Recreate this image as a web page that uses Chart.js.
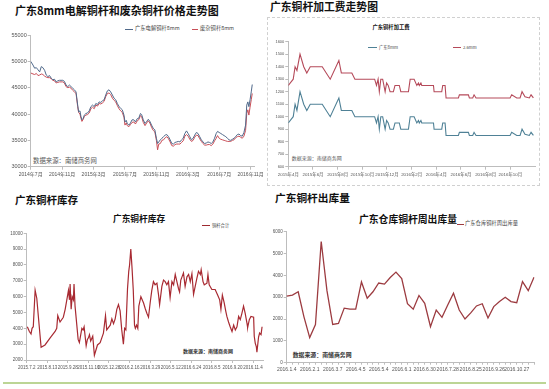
<!DOCTYPE html>
<html><head><meta charset="utf-8">
<script src="https://cdn.jsdelivr.net/npm/chart.js@4.4.1/dist/chart.umd.min.js"></script>
<style>
html,body{margin:0;padding:0;background:#fff;}
body{width:549px;height:389px;position:relative;overflow:hidden;font-family:"Noto Sans CJK SC","Noto Sans",sans-serif;}
canvas{position:absolute;}
.t{position:absolute;white-space:nowrap;line-height:1;transform:translateY(-50%);color:#404040;}
.h{font-weight:700;color:#111;}
.c{transform:translate(-50%,-50%);}
.lg{position:absolute;height:0;border-top:1.2px solid;}
</style></head><body>
<div style="position:absolute;left:267px;top:17px;width:271px;height:167px;border:1px dashed #d0d0d0;"></div>
<div style="position:absolute;left:3px;top:382px;width:543px;height:1.6px;background:#bcd595;"></div>

<div class="t h" style="left:15px;top:9.5px;font-size:11px;">广东8mm电解铜杆和废杂铜杆价格走势图</div>
<div class="t h" style="left:270px;top:6px;font-size:10.8px;">广东铜杆加工费走势图</div>
<div class="t h" style="left:15px;top:199.5px;font-size:10.5px;">广东铜杆库存</div>
<div class="t h" style="left:275px;top:197.5px;font-size:10.7px;">广东铜杆出库量</div>

<div class="t h c" style="left:391px;top:28px;font-size:5.3px;">广东铜杆加工费</div>
<div class="t h c" style="left:139px;top:218.5px;font-size:8.7px;">广东铜杆库存</div>
<div class="t h c" style="left:408px;top:219.5px;font-size:9.8px;">广东仓库铜杆周出库量</div>

<div class="lg" style="left:125px;top:29px;width:8px;border-color:#50698a;"></div>
<div class="t" style="left:135px;top:29px;font-size:5.3px;">广东电解铜杆8mm</div>
<div class="lg" style="left:192px;top:29px;width:6px;border-color:#c84f58;"></div>
<div class="t" style="left:200px;top:29px;font-size:5.3px;">废杂铜杆8mm</div>

<div class="lg" style="left:368px;top:46.5px;width:9px;border-color:#4f8196;"></div>
<div class="t" style="left:379px;top:46.5px;font-size:4.3px;">广东8mm</div>
<div class="lg" style="left:453px;top:46.5px;width:8px;border-color:#b54a5a;"></div>
<div class="t" style="left:463px;top:46.5px;font-size:4.2px;">2.6mm</div>

<div class="lg" style="left:202px;top:225px;width:8px;border-color:#9e2a30;"></div>
<div class="t" style="left:212px;top:225px;font-size:4.3px;">铜杆合计</div>

<div class="lg" style="left:457px;top:223.5px;width:7px;border-color:#9c3b40;"></div>
<div class="t" style="left:465px;top:223.5px;font-size:5.3px;">广东仓库铜杆周出库量</div>

<div class="t" style="left:33px;top:160.7px;font-size:6.4px;color:#595959;">数据来源：南储商务网</div>
<div class="t" style="left:291.7px;top:157.3px;font-size:5px;color:#595959;">数据来源：南储商务网</div>
<div class="t" style="left:183px;top:350px;font-size:5px;color:#333;font-weight:700;">数据来源：南储商务网</div>
<div class="t" style="left:292.7px;top:355px;font-size:5.9px;color:#333;font-weight:700;">数据来源：南储商务网</div>

<canvas id="c1" width="266" height="165" style="left:0px;top:20px;"></canvas>
<canvas id="c2" width="270" height="166" style="left:268px;top:18px;"></canvas>
<canvas id="c3" width="268" height="155" style="left:0px;top:225px;"></canvas>
<canvas id="c4" width="275" height="155" style="left:270px;top:225px;"></canvas>

<script>
// ---------- Panel 1: 8mm cathode rod vs scrap rod price (x = months since 2014-07) ----------
const p1TickLabels = ['2014年7月','2014年11月','2015年3月','2015年7月','2015年11月','2016年3月','2016年7月','2016年11月'];
const p1TickPos = [0,4,8,12,16,20,24,28];
const p1Months = [0.00,0.29,0.50,0.72,0.93,1.14,1.35,1.55,1.77,1.98,2.19,2.40,2.61,2.82,3.03,3.24,3.45,3.66,4.08,4.29,4.50,4.72,4.93,5.14,5.35,5.56,5.77,5.98,6.10,6.27,6.40,6.52,6.69,6.82,7.03,7.24,7.45,7.66,7.87,8.08,8.29,8.50,8.71,8.92,9.13,9.34,9.55,9.76,9.97,10.18,10.40,10.61,10.82,11.03,11.24,11.45,11.66,11.87,12.00,12.16,12.29,12.50,12.70,12.90,13.13,13.33,13.55,13.75,13.97,14.12,14.33,14.55,14.76,14.97,15.17,15.38,15.59,15.80,16.00,16.15,16.30,16.50,16.70,16.91,17.12,17.33,17.54,17.75,17.96,18.16,18.37,18.58,18.79,19.00,19.20,19.41,19.62,19.83,20.04,20.25,20.46,20.67,20.88,21.09,21.30,21.51,21.72,21.93,22.14,22.35,22.56,22.77,22.98,23.19,23.40,23.61,23.78,23.99,24.20,24.41,24.62,24.83,25.04,25.25,25.46,25.67,25.88,26.09,26.30,26.51,26.72,26.93,27.14,27.35,27.50,27.64,27.77,27.92,28.07,28.20];
const p1Cathode = [50000,49300,48700,48800,48400,48000,49000,48800,48300,47400,47100,47300,46800,46500,46600,46100,46300,46400,46400,46200,45500,45200,45500,45200,44900,44600,44200,41700,40400,40600,39500,38900,39200,39800,40100,40200,40600,41400,41700,41400,42000,41800,42300,42200,42500,42700,43600,44400,44600,44200,43600,43000,42700,42000,41400,41100,40800,39800,38500,38800,38200,37900,38300,38900,38900,38500,39100,39200,40100,39900,38900,38200,38600,39000,38600,37900,37300,37000,35400,34400,34700,35100,35400,35700,36000,36100,35700,35100,34400,34300,34600,34700,34800,34700,35100,35400,36300,36800,36300,35700,35100,35400,36000,36500,36300,35700,35100,34700,34400,34500,34700,34600,34400,34700,35400,36300,36700,36500,36300,36100,35900,35700,35400,35100,35000,35200,35400,35700,36100,36200,35900,35800,36500,37900,41700,42300,41400,42700,44200,45600];
const p1Scrap = [47800,47600,47500,47700,47300,47400,47600,47500,47200,47000,46900,46900,46700,46400,46300,45900,46000,46100,46100,45900,45200,45000,45100,44900,44500,44200,43900,41400,40300,40000,39200,38600,39000,39500,39800,39900,40200,41000,41300,41000,41700,41500,42000,41900,42100,42400,43300,43900,44000,43700,43000,42600,42300,41600,41000,40600,40300,39400,37900,38300,37800,37600,38000,38400,38500,38100,38700,38900,39700,39500,38400,37800,38300,38700,38300,37500,36900,36600,35000,33200,34300,34400,35000,35100,35500,35700,35300,34700,34000,33900,34200,34300,34300,34300,34600,34900,35800,36100,35800,35200,34800,35000,35600,36000,35900,35300,34800,34400,34100,34100,34200,34200,34000,34300,34900,35400,35900,35400,35200,35100,35000,34900,34800,34800,34800,35000,35100,35500,35700,35800,35600,35400,35800,36900,40100,40800,39800,41300,42700,43900];

// ---------- Panel 2: processing fee (x = months since 2015-04) ----------
const p2TickLabels = ['2015年4月','2015年6月','2015年8月','2015年10月','2015年12月','2016年2月','2016年4月','2016年6月','2016年8月','2016年10月'];
const p2TickPos = [0,2,4,6,8,10,12,14,16,18];
const p2Months = [0.00,0.40,0.55,0.70,0.95,1.25,1.50,1.78,2.75,3.40,4.10,4.30,5.15,5.40,7.00,7.15,7.28,7.38,7.50,7.65,7.75,7.85,7.97,8.10,8.25,8.52,8.65,9.00,9.12,9.74,9.88,10.20,10.42,10.55,10.62,10.75,10.82,11.77,11.82,12.44,12.52,12.71,12.79,13.79,13.87,14.60,14.68,14.95,15.06,15.22,17.98,18.11,18.52,18.79,18.95,19.19,19.54,19.68,19.87];
const p2Fee8mm = [950,1000,1100,1050,1200,1100,1050,1100,1100,1000,1150,1050,1050,1000,1000,950,1000,900,1000,1000,950,900,970,950,900,900,950,950,900,900,1000,1000,950,970,950,970,950,950,900,900,950,950,850,850,875,875,850,850,875,850,850,875,850,850,900,860,850,875,850];
const p2Fee26mm = [1250,1300,1400,1370,1500,1400,1350,1400,1400,1300,1450,1350,1350,1300,1300,1250,1300,1200,1300,1300,1250,1200,1270,1250,1200,1200,1250,1250,1200,1200,1300,1300,1250,1270,1250,1270,1250,1250,1200,1200,1250,1250,1150,1150,1175,1175,1150,1150,1175,1150,1150,1175,1150,1150,1200,1160,1150,1175,1150];

// ---------- Panel 3: inventory (x = tick-label index) ----------
const p3TickLabels = ['2015.7.2','2015.8.13','2015.9.28','2015.11.16','2015.12.28','2016.2.16','2016.3.29','2016.5.12','2016.6.24','2016.8.5','2016.9.20','2016.11.4'];
const p3Pos = [0.03,0.13,0.21,0.26,0.32,0.41,0.49,0.57,0.70,0.89,1.14,1.38,1.46,1.51,1.62,1.78,1.87,2.03,2.08,2.11,2.16,2.21,2.27,2.30,2.35,2.50,2.56,2.68,2.74,2.79,2.89,2.95,3.00,3.05,3.11,3.21,3.29,3.44,3.57,3.73,3.83,3.89,4.06,4.14,4.22,4.30,4.38,4.46,4.54,4.62,4.70,4.76,4.82,4.90,4.96,5.00,5.06,5.12,5.18,5.24,5.28,5.34,5.40,5.45,5.55,5.68,5.76,5.84,5.92,6.00,6.08,6.16,6.24,6.33,6.41,6.46,6.57,6.65,6.73,6.81,6.89,6.97,7.06,7.14,7.22,7.30,7.38,7.43,7.49,7.62,7.70,7.79,7.87,7.95,8.03,8.11,8.19,8.27,8.35,8.44,8.48,8.57,8.63,8.76,8.81,8.87,9.00,9.16,9.28,9.38,9.44,9.51,9.60,9.68,9.73,9.81,9.89,9.98,10.06,10.14,10.22,10.30,10.38,10.46,10.54,10.62,10.71,10.74,10.82,10.90,11.03,11.06,11.11,11.16,11.19,11.27,11.32,11.39,11.44];
const p3Stock = [4100,3800,3650,4000,4100,6400,5900,4700,2800,2950,3400,3800,4000,4800,4400,4700,5200,6400,5800,6800,5200,6000,5800,6800,5400,3300,3100,4000,3900,4100,2900,3300,3400,3600,3200,3500,2300,2950,3100,3700,4800,3900,4200,4600,4300,4600,5200,5500,5100,3900,3000,4000,3900,6500,7600,8000,9000,7800,6400,4200,4000,4200,4000,5400,6000,5600,5250,4950,4700,5600,6400,6950,6750,6850,6100,5500,6650,7050,6950,6750,6950,5950,6950,6750,7400,6950,6500,6300,7050,7500,6650,7250,7400,6950,7450,6150,6650,7150,7600,7400,7700,6950,6750,6850,7400,6750,6450,6450,6100,5800,5200,6100,5600,5050,4750,4400,4100,3800,4200,3900,4100,4750,4550,4950,5400,4950,4300,4050,4550,4750,4700,3500,3050,2850,2500,3450,3700,3600,4100];

// ---------- Panel 4: weekly outflow ----------
const p4TickLabels = ['2016.1.4','2016.2.1','2016.3.7','2016.4.5','2016.5.4','2016.6.1','2016.6.30','2016.7.28','2016.8.25','2016.9.26','2016.10.27'];
const p4Outflow = [3050,3100,3250,2100,1150,1750,5550,3300,1750,1800,2500,2450,2450,3700,2950,3250,3650,3600,3900,4150,3850,2700,2450,3080,2720,1650,2410,2080,2640,3180,2410,2000,2280,2600,2700,2050,2570,2800,3000,2800,2750,3710,3300,3910];

const AX = '#bdbdbd', TXT = '#555555';
const NUMF = "'Liberation Sans','Noto Sans CJK SC',sans-serif";

function yAxis(min, max, step, size, w) {
  return {
    type: 'linear', min: min, max: max,
    ticks: { stepSize: step, font: { size: size, family: NUMF }, color: TXT, padding: 1, callback: v => String(v) },
    grid: { drawOnChartArea: false, tickLength: 3, color: AX },
    border: { color: AX, width: 1 },
    afterFit: s => { s.width = w; }
  };
}
function xLinear(min, max, pos, labels, size, h) {
  return {
    type: 'linear', min: min, max: max,
    afterBuildTicks: s => { s.ticks = pos.map(v => ({ value: v })); },
    ticks: { autoSkip: false, maxRotation: 0, minRotation: 0, font: { size: size, family: NUMF }, color: TXT, padding: 2,
      callback: v => { const i = pos.indexOf(v); return i >= 0 ? labels[i] : ''; } },
    grid: { drawOnChartArea: false, tickLength: 3, color: AX },
    border: { color: AX, width: 1 },
    afterFit: s => { s.height = h; }
  };
}
const base = {
  responsive: false, animation: false, devicePixelRatio: 1,
  plugins: { legend: { display: false }, title: { display: false }, tooltip: { enabled: false } },
  elements: { point: { radius: 0 }, line: { tension: 0 } }
};
function pts(xs, ys) { return xs.map((x, i) => ({ x: x, y: ys[i] })); }

new Chart(document.getElementById('c1'), {
  type: 'line',
  data: { datasets: [
    { label: '广东电解铜杆8mm', data: pts(p1Months, p1Cathode), borderColor: '#50698a', borderWidth: 1 },
    { label: '废杂铜杆8mm', data: pts(p1Months, p1Scrap), borderColor: '#c84f58', borderWidth: 1 }
  ] },
  options: Object.assign({}, base, {
    layout: { padding: { left: 0, top: 15, right: 10, bottom: 0 } },
    scales: { x: xLinear(0, 28.45, p1TickPos, p1TickLabels, 5, 18.3), y: yAxis(30000, 55000, 5000, 5.5, 30.7) }
  })
});

new Chart(document.getElementById('c2'), {
  type: 'line',
  data: { datasets: [
    { label: '广东8mm', data: pts(p2Months, p2Fee8mm), borderColor: '#4f8196', borderWidth: 1.1 },
    { label: '2.6mm', data: pts(p2Months, p2Fee26mm), borderColor: '#b54a5a', borderWidth: 1.1 }
  ] },
  options: Object.assign({}, base, {
    layout: { padding: { left: 0, top: 23.7, right: 3, bottom: 0 } },
    scales: { x: xLinear(0, 20, p2TickPos, p2TickLabels, 4.4, 17.3), y: yAxis(600, 1600, 100, 4, 20.3) }
  })
});

new Chart(document.getElementById('c3'), {
  type: 'line',
  data: { datasets: [
    { label: '铜杆合计', data: pts(p3Pos, p3Stock), borderColor: '#a82a32', borderWidth: 1.2 }
  ] },
  options: Object.assign({}, base, {
    layout: { padding: { left: 0, top: 8.3, right: 4.7, bottom: 0 } },
    scales: { x: xLinear(0, 11.5, p3TickLabels.map((_, i) => i), p3TickLabels, 4.5, 20), y: yAxis(2000, 10000, 1000, 4.5, 26.7) }
  })
});

const p4Labels = p4Outflow.map((_, i) => (i % 4 === 0 ? p4TickLabels[i / 4] : ''));
new Chart(document.getElementById('c4'), {
  type: 'line',
  data: { labels: p4Labels, datasets: [
    { label: '广东仓库铜杆周出库量', data: p4Outflow, borderColor: '#9c3b40', borderWidth: 1.3 }
  ] },
  options: Object.assign({}, base, {
    layout: { padding: { left: 0, top: 6.7, right: 11, bottom: 0 } },
    scales: {
      x: { type: 'category', offset: false,
        ticks: { autoSkip: false, maxRotation: 0, minRotation: 0, font: { size: 5, family: NUMF }, color: TXT, padding: 2 },
        grid: { drawOnChartArea: false, tickLength: 2, color: AX },
        border: { color: AX, width: 1 },
        afterFit: s => { s.height = 17.3; } },
      y: yAxis(0, 6000, 1000, 4.5, 16.7)
    }
  })
});
</script>
</body></html>
